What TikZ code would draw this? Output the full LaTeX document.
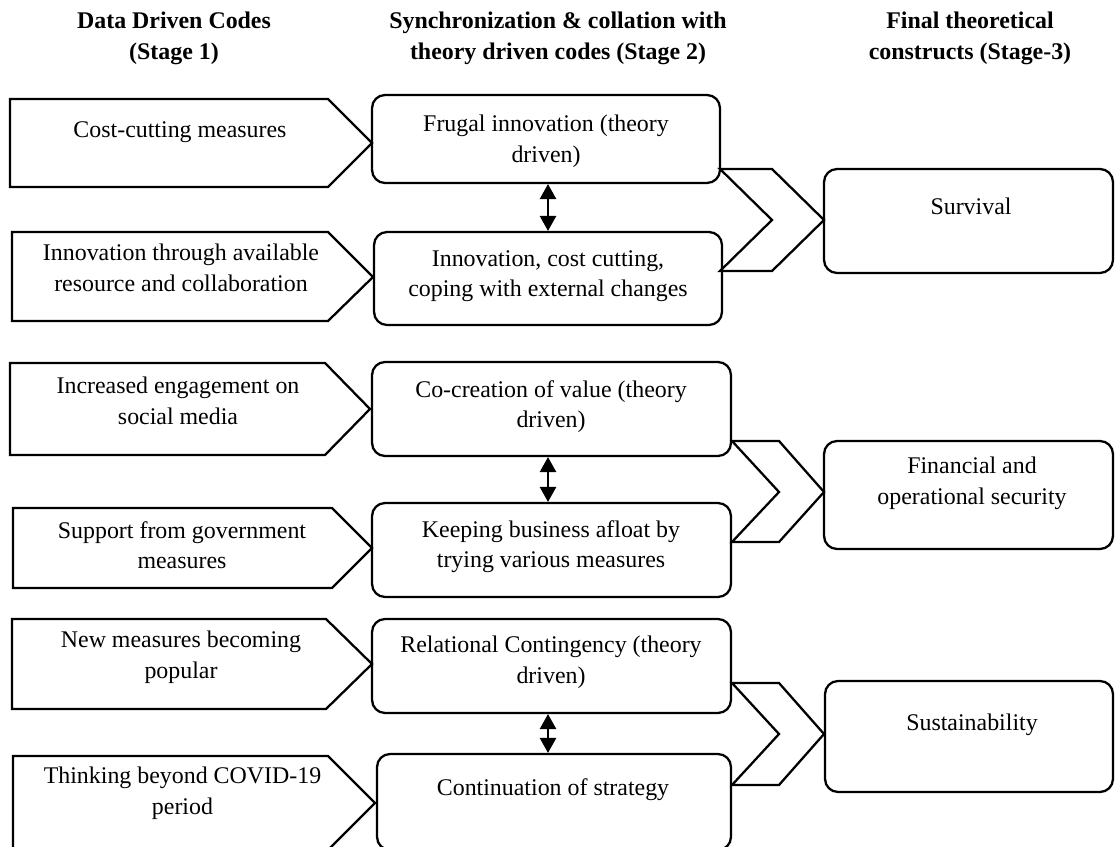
\documentclass[tikz,border=0pt]{standalone}
\usepackage{fontspec}
\setmainfont{Liberation Serif}
\usetikzlibrary{arrows.meta}

\begin{document}
\begin{tikzpicture}[x=0.02cm, y=-0.02cm,
	codebox/.style={line width=1.3pt},
	stagebox/.style={draw, line width=1.3pt, rounded corners=0.26cm, inner sep=0pt},
	txt/.style={inner sep=0pt, anchor=north, align=center, font=\fontsize{13.6}{17.3}\selectfont, execute at begin node=\strut},
	hdr/.style={txt, font=\fontsize{13.6}{17.3}\selectfont\bfseries},
	dblarrow/.style={{Triangle[width=0.33cm,length=0.3cm]}-{Triangle[width=0.33cm,length=0.3cm]}, line width=0.6pt}]
	\useasboundingbox (0,0) rectangle (1115,847);
	% Ueberschriften
	\node [hdr] (stage1) at (174,12) {Data Driven Codes\\(Stage 1)};
	\node [hdr] (stage2) at (558,12) {Synchronization \& collation with\\theory driven codes (Stage 2)};
	\node [hdr] (stage3) at (970,12) {Final theoretical\\constructs (Stage-3)};
	%%%% Gruppe 1
	% Datencodes
	\draw [codebox] (10,99) -- (328,99) -- (372,143) -- (328,187) -- (10,187) -- cycle;
	\node [txt] (costcut) at (180,116) {Cost-cutting measures};
	\draw [codebox] (12,232) -- (328,232) -- (373,277) -- (328,321) -- (12,321) -- cycle;
	\node [txt] (innovres) at (181,244) {Innovation through available\\resource and collaboration};
	% Theoriecodes
	\node [stagebox, minimum width=6.96cm, minimum height=1.76cm] (frugal) at (546,139) {};
	\node [txt] (frugaltxt) at (546,115) {Frugal innovation (theory\\driven)};
	\node [stagebox, minimum width=6.96cm, minimum height=1.86cm] (incost) at (548,278.5) {};
	\node [txt] (incosttxt) at (548,250) {Innovation, cost cutting,\\coping with external changes};
	% Pfeil und Winkel
	\coordinate (ax) at (548,0);
	\draw [dblarrow] (frugal.south -| ax) -- (incost.north -| ax);
	\draw [codebox] (720,169) -- (772,169) -- (824,220) -- (772,271) -- (720,271) -- (772,220) -- cycle;
	% Konstrukt
	\node [stagebox, minimum width=5.78cm, minimum height=2.08cm] (survival) at (968.5,221) {};
	\node [txt] (survivaltxt) at (971,193) {Survival};
	%%%% Gruppe 2
	\draw [codebox] (10,363) -- (325,363) -- (370,409) -- (325,455) -- (10,455) -- cycle;
	\node [txt] (engage) at (178,377) {Increased engagement on\\social media};
	\draw [codebox] (13,508) -- (332,508) -- (372,548) -- (332,588) -- (13,588) -- cycle;
	\node [txt] (govsupport) at (182,521) {Support from government\\measures};
	\node [stagebox, minimum width=7.18cm, minimum height=1.88cm] (cocreate) at (551.5,409) {};
	\node [txt] (cocreatetxt) at (551,380) {Co-creation of value (theory\\driven)};
	\node [stagebox, minimum width=7.18cm, minimum height=1.88cm] (afloat) at (551.5,550) {};
	\node [txt] (afloattxt) at (551,520) {Keeping business afloat by\\trying various measures};
	\draw [dblarrow] (cocreate.south -| ax) -- (afloat.north -| ax);
	\draw [codebox] (732,441) -- (779,441) -- (824,492) -- (779,542) -- (732,542) -- (779,492) -- cycle;
	\node [stagebox, minimum width=5.78cm, minimum height=2.16cm] (finsec) at (968.5,495) {};
	\node [txt] (finsectxt) at (972,457) {Financial and\\operational security};
	%%%% Gruppe 3
	\draw [codebox] (12,619) -- (326,619) -- (372,664) -- (326,709) -- (12,709) -- cycle;
	\node [txt] (newmeas) at (181,631) {New measures becoming\\popular};
	\draw [codebox] (13,756) -- (328,756) -- (375,803) -- (328,850) -- (13,850) -- cycle;
	\node [txt] (beyond) at (182.5,767) {Thinking beyond COVID-19\\period};
	\node [stagebox, minimum width=7.18cm, minimum height=1.88cm] (relcont) at (551.5,666) {};
	\node [txt] (relconttxt) at (551,636) {Relational Contingency (theory\\driven)};
	\node [stagebox, minimum width=7.08cm, minimum height=1.92cm] (contin) at (554,802) {};
	\node [txt] (contintxt) at (553,774) {Continuation of strategy};
	\draw [dblarrow] (relcont.south -| ax) -- (contin.north -| ax);
	\draw [codebox] (732,683) -- (779,683) -- (824,734) -- (779,785) -- (732,785) -- (779,734) -- cycle;
	\node [stagebox, minimum width=5.76cm, minimum height=2.22cm] (sustain) at (969,736.5) {};
	\node [txt] (sustaintxt) at (972,709) {Sustainability};
\end{tikzpicture}
\end{document}
